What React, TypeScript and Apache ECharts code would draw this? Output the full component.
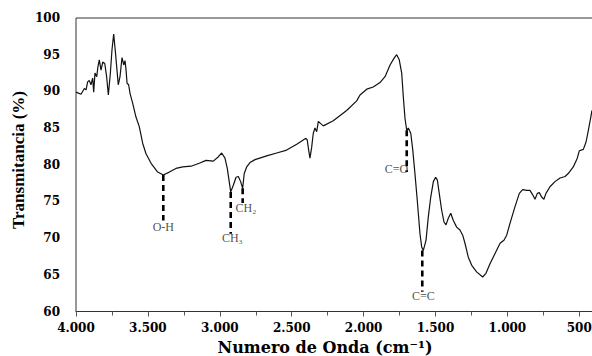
import React, { useEffect, useRef } from "react";
import * as echarts from "echarts";

const wavenumbers = [4000,3965,3942,3930,3919,3908,3896,3884,3877,3868,3856,3847,3838,3826,3814,3800,3787,3775,3761,3750,3738,3727,3715,3706,3694,3680,3668,3659,3652,3645,3634,3624,3606,3583,3560,3536,3513,3478,3432,3393,3351,3305,3258,3200,3143,3096,3045,3010,2987,2964,2948,2936,2924,2906,2887,2871,2855,2841,2830,2813,2790,2755,2674,2604,2535,2465,2401,2392,2382,2373,2361,2350,2338,2326,2315,2298,2280,2211,2118,2048,2025,1978,1933,1886,1851,1816,1789,1770,1752,1735,1724,1712,1700,1689,1672,1658,1643,1627,1608,1596,1585,1566,1550,1533,1515,1499,1487,1474,1457,1441,1427,1411,1394,1376,1353,1330,1311,1295,1272,1248,1214,1172,1149,1121,1086,1051,1024,1005,982,947,917,894,866,843,824,808,792,778,762,746,732,704,669,634,599,577,542,514,500,472,453,437,420,412];

const transmittance = [89.9,89.6,90.4,90.2,91.3,91.5,90.9,91.8,89.9,92.5,92.0,93.4,94.3,92.9,94.0,93.8,92.0,89.5,92.5,95.6,97.8,95.6,92.9,90.9,92.0,94.6,93.6,94.2,92.9,91.1,90.9,89.7,88.4,86.5,85.2,82.9,81.5,80.2,79.0,78.6,79.0,79.5,79.7,79.8,80.2,80.6,80.5,81.1,81.6,80.9,79.5,77.9,76.3,77.2,78.3,78.4,77.7,76.8,78.8,79.7,80.3,80.7,81.2,81.6,82.0,82.8,83.6,83.4,82.0,80.9,82.4,84.3,85.0,84.5,85.9,85.6,85.3,86.0,87.4,88.7,89.5,90.3,90.6,91.2,92.0,93.6,94.5,95.0,94.3,92.5,89.3,86.3,84.7,85.0,84.3,82.0,78.8,75.2,70.6,68.8,68.3,69.7,72.9,75.6,77.7,78.3,77.9,76.1,73.8,72.2,71.8,72.7,73.4,72.4,71.5,71.1,70.4,69.3,67.4,66.3,65.4,64.7,65.2,66.5,67.9,69.3,69.7,70.4,72.0,74.3,76.1,76.6,76.5,76.5,75.9,75.3,76.1,76.2,75.6,75.3,76.1,77.0,77.7,78.2,78.4,78.8,79.7,80.9,81.9,82.1,83.1,84.7,86.5,87.4];

// Annotation markers (dashed drop lines) and their labels
const annotWn = [3393, 2924, 2841, 1700, 1592];
const annotTop = [78.6, 76.3, 76.8, 84.7, 68.3];
const annotBottom = [72.4, 70.6, 74.8, 79.0, 62.7];
const annotLabels = ["O-H", "CH₃", "CH₂", "C=O", "C=C"];
const annotLabelWn = [3393, 2913, 2818, 1771, 1585];
const annotLabelT = [71.5, 70.0, 74.1, 79.4, 62.1];

const xTicks = { min: 0, max: 4000, interval: 500 };
const yTicks = { min: 60, max: 100, interval: 5 };

function fmtThousands(v: number): string {
  if (v === 0) return "";
  if (v >= 1000) {
    const th = Math.floor(v / 1000);
    const rest = String(v % 1000).padStart(3, "0");
    return th + "." + rest;
  }
  return String(v);
}

export default function App() {
  const ref = useRef<HTMLDivElement>(null);
  useEffect(() => {
    if (!ref.current) return;
    const chart = echarts.init(ref.current, null, { renderer: "svg" });
    const n = Math.min(wavenumbers.length, transmittance.length);
    const spectrum = [];
    for (let i = 0; i < n; i++) spectrum.push([wavenumbers[i], transmittance[i]]);

    const dashSeries = annotWn.map((w, i) => ({
      type: "line",
      data: [[w, annotTop[i]], [w, annotBottom[i]]],
      symbol: "none",
      silent: true,
      lineStyle: { color: "#000", width: 2.6, type: [6, 4] },
      z: 3,
    }));

    const labelSeries = {
      type: "scatter",
      data: annotWn.map((_, i) => [annotLabelWn[i], annotLabelT[i]]),
      symbolSize: 0,
      silent: true,
      label: {
        show: true,
        position: "inside",
        formatter: (p: any) => annotLabels[p.dataIndex],
        fontFamily: "Liberation Serif, Times New Roman, serif",
        fontSize: 12,
        color: "#222",
      },
      z: 4,
    };

    const tickFont = {
      fontFamily: "DejaVu Serif, serif",
      fontWeight: "bold",
      fontSize: 12,
      color: "#000",
    };

    chart.setOption({
      animation: false,
      backgroundColor: "#fff",
      grid: {
        left: 76,
        top: 18,
        right: -59.2,
        bottom: 44.5,
        containLabel: false,
        outerBoundsMode: "none",
        show: true,
        borderColor: "#333",
        borderWidth: 1,
        backgroundColor: "transparent",
      },
      xAxis: {
        type: "value",
        min: xTicks.min,
        max: xTicks.max,
        interval: xTicks.interval,
        inverse: true,
        axisLine: { show: true, onZero: false, lineStyle: { color: "#333", width: 1 } },
        axisTick: { show: true, length: 5, lineStyle: { color: "#555" } },
        minorTick: { show: true, splitNumber: 2, length: 4, lineStyle: { color: "#555" } },
        splitLine: { show: false },
        axisLabel: { ...tickFont, margin: 10, formatter: (v: number) => fmtThousands(v) },
      },
      yAxis: {
        type: "value",
        min: yTicks.min,
        max: yTicks.max,
        interval: yTicks.interval,
        axisLine: { show: true, lineStyle: { color: "#333", width: 1 } },
        axisTick: { show: true, length: 11, lineStyle: { color: "#777" } },
        minorTick: { show: true, splitNumber: 2, length: 8, lineStyle: { color: "#777" } },
        splitLine: { show: false },
        axisLabel: { ...tickFont, margin: 16 },
      },
      graphic: [
        {
          type: "text",
          x: 325,
          y: 347,
          style: {
            text: "Numero de Onda (cm⁻¹)",
            fontFamily: "DejaVu Serif, serif",
            fontWeight: "bold",
            fontSize: 16,
            fill: "#000",
            align: "center",
            verticalAlign: "middle",
          },
        },
        {
          type: "text",
          x: 18,
          y: 160,
          rotation: Math.PI / 2,
          style: {
            text: "Transmitancia (%)",
            fontFamily: "Liberation Serif, Times New Roman, serif",
            fontWeight: "bold",
            fontSize: 17,
            fill: "#000",
            align: "center",
            verticalAlign: "middle",
          },
        },
      ],
      series: [
        {
          type: "line",
          data: spectrum,
          symbol: "none",
          lineStyle: { color: "#111", width: 1.2 },
          z: 2,
        },
        ...dashSeries,
        labelSeries,
      ],
    });
    return () => chart.dispose();
  }, []);
  return <div ref={ref} style={{ width: 592, height: 356, position: "absolute", left: 0, top: 0 }} />;
}
